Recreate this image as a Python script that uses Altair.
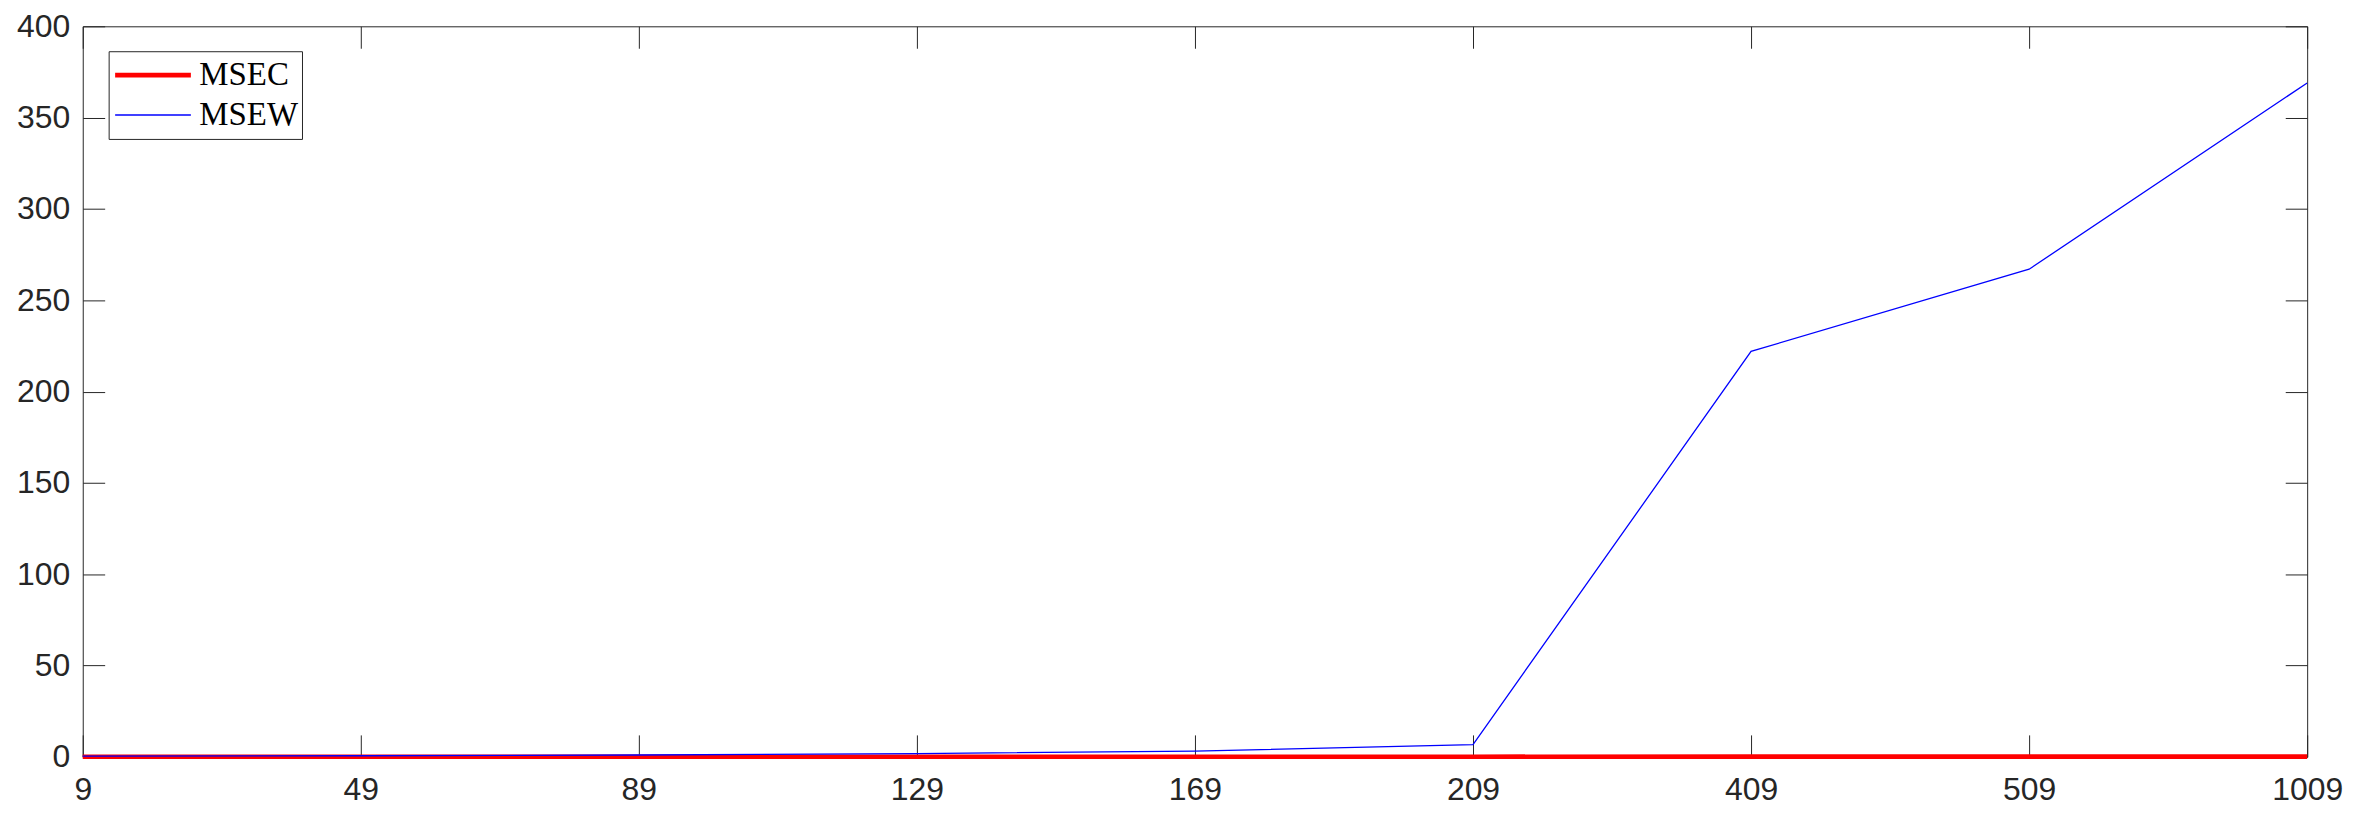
import altair as alt
import pandas as pd

x_labels = ["9", "49", "89", "129", "169", "209", "409", "509", "1009"]
series_names = ["MSEC", "MSEW"]
msec = [0.05, 0.05, 0.05, 0.05, 0.05, 0.05, 0.1, 0.1, 0.1]
msew = [0.4, 0.6, 1.0, 1.8, 3.1, 6.7, 222.0, 267.0, 369.0]
y_ticks = [0, 50, 100, 150, 200, 250, 300, 350, 400]

rows = []
for name, vals in zip(series_names, [msec, msew]):
    for i, (lab, v) in enumerate(zip(x_labels, vals)):
        rows.append({"n": lab, "v": v, "series": name, "i": i})
df = pd.DataFrame(rows)

AX = "#262626"
TICK = 22

x_scale = alt.Scale(type="point", padding=0)
y_scale = alt.Scale(domain=[0, 400], nice=False)

lines = alt.Chart(df).mark_line().encode(
    x=alt.X("n:O", sort=x_labels, scale=x_scale, title=None,
            axis=alt.Axis(orient="bottom", labelAngle=0, domain=False, grid=False,
                          offset=-TICK, tickSize=TICK, tickColor=AX, tickWidth=1,
                          labelPadding=18, labelFont="Liberation Sans",
                          labelFontSize=32, labelColor=AX)),
    y=alt.Y("v:Q", scale=y_scale, title=None,
            axis=alt.Axis(orient="left", values=y_ticks, domain=False, grid=False,
                          offset=-TICK, tickSize=TICK, tickColor=AX, tickWidth=1,
                          labelPadding=13, labelFont="Liberation Sans",
                          labelFontSize=32, labelColor=AX)),
    color=alt.Color("series:N",
                    scale=alt.Scale(domain=series_names, range=["#ff0000", "#0000ff"]),
                    legend=alt.Legend(title=None, orient="none", legendX=26, legendY=25,
                                      symbolType="stroke", symbolSize=5776,
                                      clipHeight=40, rowPadding=0, padding=4,
                                      labelOffset=6, labelFont="Liberation Serif",
                                      labelFontSize=33, labelColor="black",
                                      labelLimit=400, strokeColor=AX,
                                      fillColor="white")),
    strokeWidth=alt.StrokeWidth("series:N",
                                scale=alt.Scale(domain=series_names, range=[4.7, 1.3]),
                                legend=alt.Legend(title=None, orient="none", legendX=26, legendY=25,
                                                  symbolType="stroke", symbolSize=5776,
                                                  clipHeight=40, rowPadding=0, padding=4,
                                                  labelOffset=6, labelFont="Liberation Serif",
                                                  labelFontSize=33, labelColor="black",
                                                  labelLimit=400, strokeColor=AX,
                                                  fillColor="white")),
    order=alt.Order("i:Q"),
)

mirror = alt.Chart(df).mark_line(opacity=0).encode(
    x=alt.X("n:O", sort=x_labels, scale=x_scale, title=None,
            axis=alt.Axis(orient="top", labels=False, domain=False, grid=False,
                          offset=-TICK, tickSize=TICK, tickColor=AX, tickWidth=1)),
    y=alt.Y("v:Q", scale=y_scale, title=None,
            axis=alt.Axis(orient="right", values=y_ticks, labels=False, domain=False,
                          grid=False, offset=-TICK, tickSize=TICK, tickColor=AX,
                          tickWidth=1)),
    detail="series:N",
)

chart = alt.layer(mirror, lines).resolve_axis(x="independent", y="independent").properties(
    width=2232,
    height=733,
    autosize=alt.AutoSizeParams(type="none"),
    padding={"left": 75, "top": 17, "right": 50, "bottom": 58},
    background="white",
).configure_view(stroke=AX, strokeWidth=1)

chart.save("out.html", embed_options={"renderer": "svg", "actions": False})
